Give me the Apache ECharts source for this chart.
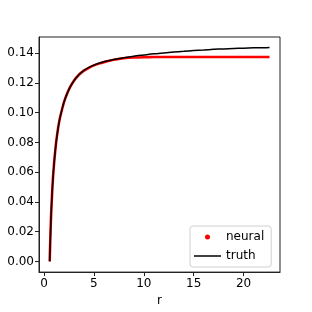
<!DOCTYPE html>
<html>
<head>
<meta charset="utf-8">
<script src="https://cdn.jsdelivr.net/npm/echarts@6/dist/echarts.min.js"></script>
<style>html,body{margin:0;padding:0;background:#fff}#c{width:312px;height:312px}</style>
</head>
<body>
<div id="c"></div>
<script>
const rValues = [0.57, 0.6, 0.7, 0.8, 0.9, 1.0, 1.1, 1.2, 1.3, 1.4, 1.5, 1.6, 1.8, 2.0, 2.3, 2.6, 3.0, 3.5, 4.0, 4.5, 5.0, 5.5, 6, 7, 8, 9, 10, 11, 12, 13, 14, 15, 16, 17, 18, 19, 20, 21, 22, 22.6];
const truthValues = [0.000, 0.007, 0.029, 0.044, 0.056, 0.065, 0.0725, 0.079, 0.0843, 0.089, 0.093, 0.0965, 0.102, 0.107, 0.1125, 0.117, 0.1215, 0.1255, 0.1285, 0.1305, 0.132, 0.1332, 0.1342, 0.1358, 0.137, 0.138, 0.1388, 0.1396, 0.1402, 0.1408, 0.1413, 0.1418, 0.1422, 0.1426, 0.1429, 0.1432, 0.1434, 0.1436, 0.1437, 0.1438];
const neuralValues = [0.000, 0.007, 0.029, 0.044, 0.056, 0.065, 0.0725, 0.079, 0.0843, 0.089, 0.093, 0.0965, 0.102, 0.107, 0.1125, 0.117, 0.1215, 0.1255, 0.1283, 0.1302, 0.1318, 0.1330, 0.1340, 0.1356, 0.1366, 0.1371, 0.1373, 0.1374, 0.1375, 0.1375, 0.1375, 0.1375, 0.1375, 0.1375, 0.1375, 0.1375, 0.1375, 0.1375, 0.1375, 0.1375];
const xTicks = [0, 5, 10, 15, 20];
const yTicks = [0.00, 0.02, 0.04, 0.06, 0.08, 0.10, 0.12, 0.14];
const seriesNames = ['neural', 'truth'];

const font = 'DejaVu Sans';
const chart = echarts.init(document.getElementById('c'), null, {renderer: 'canvas'});
chart.setOption({
  animation: false,
  backgroundColor: '#fff',
  grid: {left: 39, right: 32, top: 37, bottom: 39, show: true, borderColor: '#222', borderWidth: 1, backgroundColor: 'transparent'},
  legend: {
    orient: 'vertical', left: 190, top: 226,
    padding: [4, 7, 4, 4],
    itemWidth: 27, itemHeight: 5, itemGap: 5, itemTextGap: 8,
    backgroundColor: '#fff', borderColor: '#d0d0d0', borderWidth: 1, borderRadius: 3,
    textStyle: {fontFamily: font, fontSize: 12, color: '#000', lineHeight: 14},
    data: [
      {name: seriesNames[0], icon: 'circle', itemStyle: {color: '#ff0000'}},
      {name: seriesNames[1], icon: 'path://M0,0H36V2H0Z', itemStyle: {color: '#000'}}
    ]
  },
  xAxis: {
    type: 'value', min: -0.5, max: 23.65,
    name: 'r', nameLocation: 'middle', nameGap: 20,
    nameTextStyle: {fontFamily: font, fontSize: 12, color: '#000'},
    axisLine: {show: true, onZero: false, lineStyle: {color: '#222', width: 1}},
    axisTick: {show: true, inside: false, length: 4, customValues: xTicks, lineStyle: {color: '#222'}},
    axisLabel: {customValues: xTicks, margin: 6, fontFamily: font, fontSize: 12, color: '#000'},
    splitLine: {show: false}
  },
  yAxis: {
    type: 'value', min: -0.0072, max: 0.1509,
    axisLine: {show: true, onZero: false, lineStyle: {color: '#222', width: 1}},
    axisTick: {show: true, inside: false, length: 4, customValues: yTicks, lineStyle: {color: '#222'}},
    axisLabel: {customValues: yTicks, margin: 5, fontFamily: font, fontSize: 12, color: '#000',
      formatter: v => v.toFixed(2)},
    splitLine: {show: false}
  },
  series: [
    {name: seriesNames[0], type: 'line', symbol: 'none', color: '#ff0000',
     lineStyle: {color: '#ff0000', width: 2.6},
     data: rValues.map((r, i) => [r, neuralValues[i]]), smooth: 0.25, z: 2},
    {name: seriesNames[1], type: 'line', symbol: 'none', color: '#000',
     lineStyle: {color: '#000', width: 1.5},
     data: rValues.map((r, i) => [r, truthValues[i]]), smooth: 0.25, z: 3}
  ]
});
</script>
</body>
</html>
